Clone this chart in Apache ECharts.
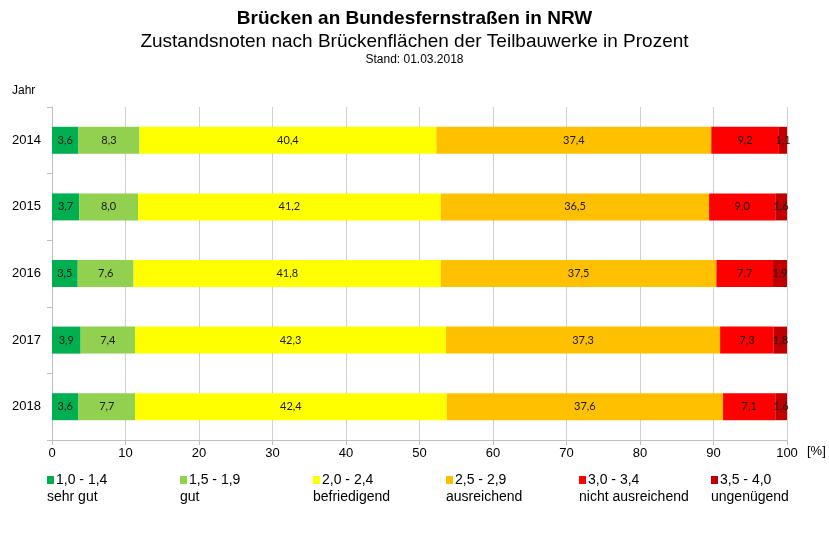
<!DOCTYPE html>
<html><head><meta charset="utf-8">
<script src="https://cdn.jsdelivr.net/npm/echarts@6/dist/echarts.min.js"></script>
<style>html,body{margin:0;padding:0;background:#fff}#c{width:829px;height:534px}</style>
</head><body><div id="c"></div>
<script>
const years = ['2014','2015','2016','2017','2018'];
const grades = ['1,0 - 1,4','1,5 - 1,9','2,0 - 2,4','2,5 - 2,9','3,0 - 3,4','3,5 - 4,0'];
const gradeNames = ['sehr gut','gut','befriedigend','ausreichend','nicht ausreichend','ungenügend'];
const colors = ['#00B050','#92D050','#FFFF00','#FFC000','#FF0000','#C00000'];
const sehrGut = [3.6,3.7,3.5,3.9,3.6];
const gut = [8.3,8.0,7.6,7.4,7.7];
const befriedigend = [40.4,41.2,41.8,42.3,42.4];
const ausreichend = [37.4,36.5,37.5,37.3,37.6];
const nichtAusreichend = [9.2,9.0,7.7,7.3,7.1];
const ungenuegend = [1.1,1.6,1.9,1.8,1.6];
const xTicks = [0,10,20,30,40,50,60,70,80,90,100];

const seriesData = [sehrGut,gut,befriedigend,ausreichend,nichtAusreichend,ungenuegend];
const FONT = '"Liberation Sans", Arial, sans-serif';
const legendX = [47,180,313,446,579,711];

const chart = echarts.init(document.getElementById('c'), null, {renderer:'canvas'});
chart.setOption({
  animation:false,
  backgroundColor:'#fff',
  textStyle:{fontFamily:FONT},
  title:[
    {text:'Brücken an Bundesfernstraßen in NRW', left:'center', top:4, textStyle:{fontSize:19, fontWeight:'bold', color:'#000', fontFamily:FONT}},
    {text:'Zustandsnoten nach Brückenflächen der Teilbauwerke in Prozent', left:'center', top:27, textStyle:{fontSize:19, fontWeight:'normal', color:'#000', fontFamily:FONT}},
    {text:'Stand: 01.03.2018', left:'center', top:49, textStyle:{fontSize:12, fontWeight:'normal', color:'#000', fontFamily:FONT}}
  ],
  grid:{left:52, right:42, top:107, bottom:94, containLabel:false},
  xAxis:{
    type:'value', min:xTicks[0], max:xTicks[xTicks.length-1], interval:10,
    axisLine:{show:true, lineStyle:{color:'#bfbfbf'}},
    axisTick:{show:true, length:5, lineStyle:{color:'#bfbfbf'}},
    axisLabel:{color:'#000', fontSize:13, margin:7, fontFamily:FONT},
    splitLine:{show:true, lineStyle:{color:'#d0d0d0'}}
  },
  yAxis:{
    type:'category', data:years, inverse:true,
    axisLine:{show:true, lineStyle:{color:'#bfbfbf'}},
    axisTick:{show:true, length:5, lineStyle:{color:'#bfbfbf'}},
    axisLabel:{color:'#000', fontSize:13, margin:11, fontFamily:FONT},
    splitLine:{show:false}
  },
  legend: grades.map((g,i)=>({
    data:[g], left:legendX[i], top:473, itemWidth:7, itemHeight:8, itemGap:0,
    icon:'rect', padding:0,
    textStyle:{fontSize:14, color:'#000', fontFamily:FONT, padding:[0,0,0,-3]}
  })),
  graphic:[
    {type:'text', left:807, top:445, style:{text:'[%]', font:'13px '+FONT, fill:'#000'}},
    {type:'text', left:12, top:85, style:{text:'Jahr', font:'12px '+FONT, fill:'#000'}}
  ].concat(gradeNames.map((n,i)=>({type:'text', left:legendX[i], top:490, style:{text:n, font:'14px '+FONT, fill:'#000'}}))),
  series: grades.map((g,i)=>({
    name:g, type:'bar', stack:'total', barWidth:27,
    itemStyle:{color:colors[i]},
    label:{show:true, position:'inside', color:'#1a1a1a', fontSize:11, fontFamily:'Lato, sans-serif',
      formatter:p=>p.value.toFixed(1).replace('.',',')},
    data:seriesData[i]
  }))
});
</script></body></html>
